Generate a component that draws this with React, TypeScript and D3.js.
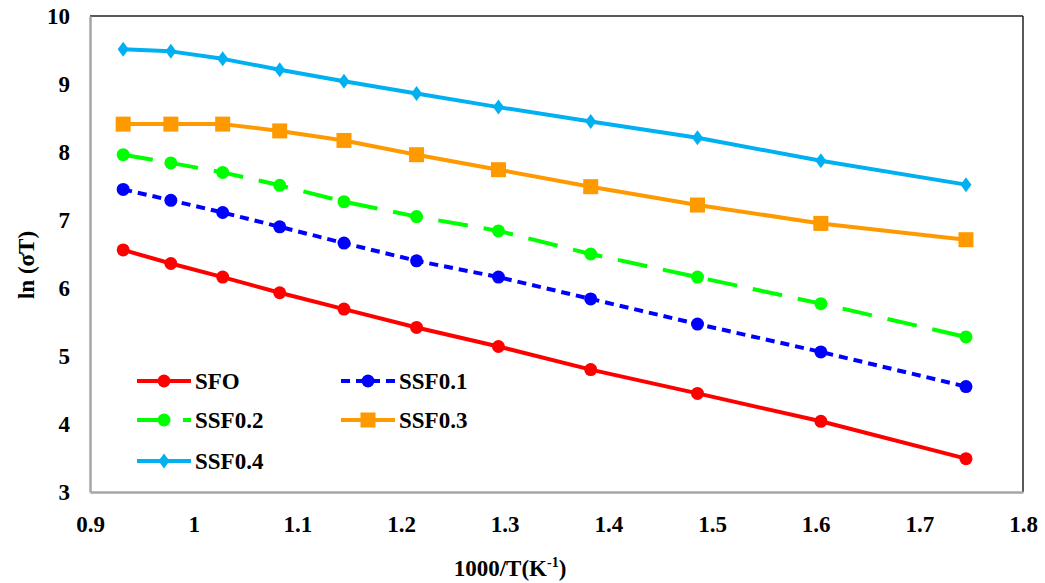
import { useEffect, useRef } from 'react';
import * as d3 from 'd3';

// 1000/T values (T = 1073 ... 573 K)
const xValues = [0.932, 0.978, 1.028, 1.083, 1.145, 1.215, 1.294, 1.383, 1.486, 1.605, 1.745];

const sfo = [6.56, 6.36, 6.16, 5.93, 5.69, 5.42, 5.14, 4.80, 4.45, 4.04, 3.49];
const ssf01 = [7.45, 7.29, 7.11, 6.90, 6.66, 6.40, 6.16, 5.84, 5.47, 5.06, 4.55];
const ssf02 = [7.96, 7.84, 7.70, 7.51, 7.27, 7.05, 6.84, 6.50, 6.16, 5.77, 5.28];
const ssf03 = [8.41, 8.41, 8.41, 8.31, 8.17, 7.96, 7.74, 7.49, 7.22, 6.95, 6.71];
const ssf04 = [9.51, 9.48, 9.37, 9.21, 9.04, 8.86, 8.66, 8.45, 8.21, 7.87, 7.52];

const xTicks = [0.9, 1, 1.1, 1.2, 1.3, 1.4, 1.5, 1.6, 1.7, 1.8];
const yTicks = [3, 4, 5, 6, 7, 8, 9, 10];

const series = [
  { name: 'SFO', values: sfo, color: '#ff0000', dash: null, marker: 'circle' },
  { name: 'SSF0.1', values: ssf01, color: '#0000ff', dash: '9,6', marker: 'circle' },
  { name: 'SSF0.2', values: ssf02, color: '#00ff00', dash: '30,16', marker: 'circle' },
  { name: 'SSF0.3', values: ssf03, color: '#ff9900', dash: null, marker: 'square' },
  { name: 'SSF0.4', values: ssf04, color: '#00b0f0', dash: null, marker: 'diamond' },
];

const FONT = "'Liberation Serif', 'Times New Roman', Times, serif";
const FS = 23;

const drawMarker = (g: any, kind: string, x: number, y: number, color: string) => {
  if (kind === 'circle') {
    g.append('circle').attr('cx', x).attr('cy', y).attr('r', 6.5).attr('fill', color);
  } else if (kind === 'square') {
    g.append('rect')
      .attr('x', x - 7.5)
      .attr('y', y - 7.5)
      .attr('width', 15)
      .attr('height', 15)
      .attr('fill', color);
  } else {
    g.append('path')
      .attr('d', `M${x},${y - 7.5}L${x + 5.5},${y}L${x},${y + 7.5}L${x - 5.5},${y}Z`)
      .attr('fill', color);
  }
};

export default function App() {
  const ref = useRef<SVGSVGElement>(null);

  useEffect(() => {
    const width = 1045;
    const height = 583;
    const m = { left: 90, top: 16, right: 1023, bottom: 492 };

    const svg = d3.select(ref.current);
    svg.selectAll('*').remove();

    const x = d3.scaleLinear().domain([0.9, 1.8]).range([m.left, m.right]);
    const y = d3.scaleLinear().domain([3, 10]).range([m.bottom, m.top]);

    svg.append('rect').attr('width', width).attr('height', height).attr('fill', '#fff');

    // frame: top/right dark, left/bottom gray
    svg.append('line')
      .attr('x1', m.left).attr('x2', m.right).attr('y1', m.top).attr('y2', m.top)
      .attr('stroke', '#222').attr('stroke-width', 1.5);
    svg.append('line')
      .attr('x1', m.right).attr('x2', m.right).attr('y1', m.top).attr('y2', m.bottom)
      .attr('stroke', '#222').attr('stroke-width', 1.5);

    // axes
    const xAxis = svg.append('g')
      .attr('transform', `translate(0,${m.bottom})`)
      .call(d3.axisBottom(x).tickValues(xTicks).tickSize(0).tickPadding(20).tickFormat(d3.format('')));
    const yAxis = svg.append('g')
      .attr('transform', `translate(${m.left},0)`)
      .call(d3.axisLeft(y).tickValues(yTicks).tickSize(0).tickPadding(20).tickFormat(d3.format('')));

    [xAxis, yAxis].forEach((a) => {
      a.attr('font-family', FONT).attr('font-size', FS);
      a.select('.domain').attr('stroke', '#a6a6a6').attr('stroke-width', 2.5);
      a.selectAll('text')
        .attr('font-family', FONT)
        .attr('font-weight', 'bold')
        .attr('font-size', FS)
        .attr('fill', '#000');
    });
    xAxis.selectAll('text').attr('dy', '0.85em');

    // lines + markers
    const line = d3.line<number>()
      .x((_, i) => x(xValues[i]))
      .y((d) => y(d));

    series.forEach((s) => {
      svg.append('path')
        .attr('d', line(s.values))
        .attr('fill', 'none')
        .attr('stroke', s.color)
        .attr('stroke-width', 4)
        .attr('stroke-dasharray', s.dash)
        .attr('stroke-linejoin', 'round');
      const g = svg.append('g');
      s.values.forEach((v, i) => drawMarker(g, s.marker, x(xValues[i]), y(v), s.color));
    });

    // legend
    const legendPos = [
      [137, 381], [341, 381],
      [137, 420], [341, 420],
      [137, 461],
    ];
    series.forEach((s, i) => {
      const [lx, ly] = legendPos[i];
      const g = svg.append('g');
      g.append('line')
        .attr('x1', lx).attr('x2', lx + 54)
        .attr('y1', ly).attr('y2', ly)
        .attr('stroke', s.color)
        .attr('stroke-width', 4)
        .attr('stroke-dasharray', s.dash);
      drawMarker(g, s.marker, lx + 27, ly, s.color);
      g.append('text')
        .attr('x', lx + 58)
        .attr('y', ly + 8)
        .attr('font-family', FONT)
        .attr('font-weight', 'bold')
        .attr('font-size', FS)
        .text(s.name);
    });

    // axis titles
    const xt = svg.append('text')
      .attr('x', 510)
      .attr('y', 576)
      .attr('text-anchor', 'middle')
      .attr('font-family', FONT)
      .attr('font-weight', 'bold')
      .attr('font-size', FS);
    xt.append('tspan').text('1000/T(K');
    xt.append('tspan').attr('font-size', 14).attr('dy', -9).text('-1');
    xt.append('tspan').attr('dy', 9).text(')');

    svg.append('text')
      .attr('transform', 'translate(34,265) rotate(-90)')
      .attr('text-anchor', 'middle')
      .attr('font-family', FONT)
      .attr('font-weight', 'bold')
      .attr('font-size', FS)
      .text('ln (σT)');
  }, []);

  return (
    <svg
      ref={ref}
      width={1045}
      height={583}
      style={{ display: 'block', position: 'absolute', left: 0, top: 0 }}
    />
  );
}
